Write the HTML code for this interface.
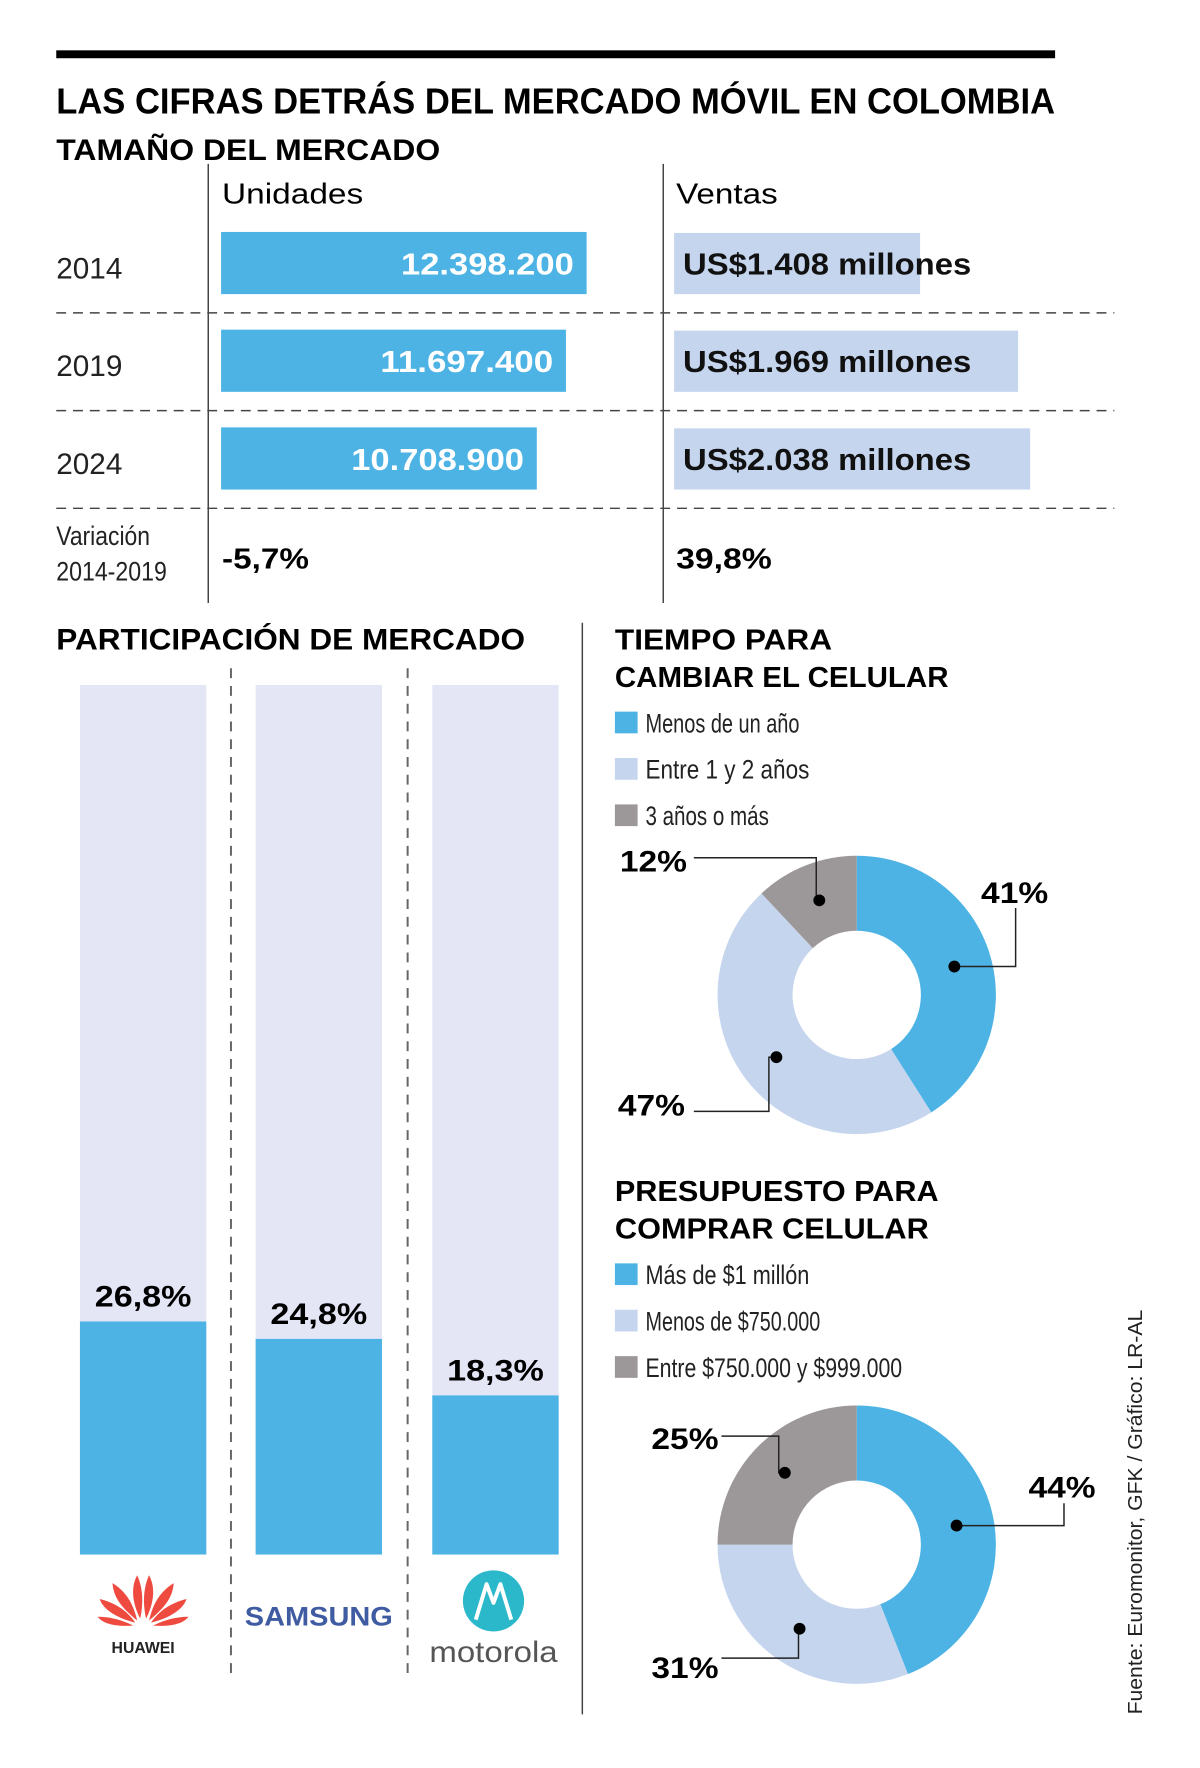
<!DOCTYPE html>
<html><head><meta charset="utf-8"><style>
html,body{margin:0;padding:0;background:#fff;}
svg{display:block;font-family:"Liberation Sans",sans-serif;}
</style></head><body>
<svg id="chart" width="1200" height="1768" viewBox="0 0 1200 1768" xmlns="http://www.w3.org/2000/svg">
<g transform="scale(0.987)">
<rect x="57" y="51" width="1012" height="8" fill="#000"/>
<text x="57" y="115" font-size="37" font-weight="bold" textLength="1012" lengthAdjust="spacingAndGlyphs">LAS CIFRAS DETRÁS DEL MERCADO MÓVIL EN COLOMBIA</text>
<text x="57" y="162" font-size="30" font-weight="bold" textLength="389" lengthAdjust="spacingAndGlyphs">TAMAÑO DEL MERCADO</text>
<line x1="211" y1="166" x2="211" y2="611" stroke="#444" stroke-width="1.5"/>
<line x1="672" y1="166" x2="672" y2="611" stroke="#444" stroke-width="1.5"/>
<text x="225" y="206" font-size="29" textLength="143" lengthAdjust="spacingAndGlyphs">Unidades</text>
<text x="685" y="206" font-size="29" textLength="103" lengthAdjust="spacingAndGlyphs">Ventas</text>
<g id="sizeRows"></g>
<text x="57" y="552" font-size="27" fill="#222" textLength="95" lengthAdjust="spacingAndGlyphs">Variación</text>
<text x="57" y="588" font-size="27" fill="#222" textLength="112" lengthAdjust="spacingAndGlyphs">2014-2019</text>
<text x="225" y="576" font-size="29" font-weight="bold" textLength="88" lengthAdjust="spacingAndGlyphs">-5,7%</text>
<text x="685" y="576" font-size="29" font-weight="bold" textLength="97" lengthAdjust="spacingAndGlyphs">39,8%</text>

<text x="57" y="658" font-size="30" font-weight="bold" textLength="475" lengthAdjust="spacingAndGlyphs">PARTICIPACIÓN DE MERCADO</text>
<line x1="590" y1="631" x2="590" y2="1737" stroke="#444" stroke-width="1.5"/>
<line x1="234" y1="677" x2="234" y2="1703" stroke="#666" stroke-width="2" stroke-dasharray="10,8"/>
<line x1="413" y1="677" x2="413" y2="1703" stroke="#666" stroke-width="2" stroke-dasharray="10,8"/>
<g id="shareBars"></g>

<g transform="translate(145,1632)">
 <g fill="#ef4a3f">
  <path d="M-3,8 C-12,-10 -12,-25 -6,-36 C-1,-25 1,-10 -3,8Z"/>
  <path d="M3,8 C12,-10 12,-25 6,-36 C1,-25 -1,-10 3,8Z"/>
  <path d="M-6,10 C-20,-2 -30,-12 -31,-28 C-18,-20 -10,-8 -6,10Z"/>
  <path d="M6,10 C20,-2 30,-12 31,-28 C18,-20 10,-8 6,10Z"/>
  <path d="M-8,12 C-24,8 -40,0 -44,-12 C-28,-8 -16,0 -8,12Z"/>
  <path d="M8,12 C24,8 40,0 44,-12 C28,-8 16,0 8,12Z"/>
  <path d="M-10,15 C-26,16 -40,14 -46,6 C-32,6 -20,10 -10,15Z"/>
  <path d="M10,15 C26,16 40,14 46,6 C32,6 20,10 10,15Z"/>
 </g>
 <text x="0" y="43" font-size="16" font-weight="bold" text-anchor="middle" fill="#222">HUAWEI</text>
</g>
<text x="323" y="1647" font-size="27" font-weight="bold" text-anchor="middle" fill="#3f5ba1" textLength="150" lengthAdjust="spacingAndGlyphs">SAMSUNG</text>
<g>
 <circle cx="500" cy="1622" r="31" fill="#2bb8cb"/>
 <path d="M482,1641 L493,1605 L500,1624 L507,1605 L518,1641" fill="none" stroke="#fff" stroke-width="4" stroke-linejoin="round"/>
 <text x="500" y="1684" font-size="30" text-anchor="middle" fill="#555" textLength="130" lengthAdjust="spacingAndGlyphs">motorola</text>
</g>

<text x="623" y="658" font-size="29" font-weight="bold" textLength="220" lengthAdjust="spacingAndGlyphs">TIEMPO PARA</text>
<text x="623" y="696" font-size="29" font-weight="bold" textLength="338" lengthAdjust="spacingAndGlyphs">CAMBIAR EL CELULAR</text>
<g id="legend1"></g>
<g id="donut1"></g>
<text x="623" y="1217" font-size="29" font-weight="bold" textLength="328" lengthAdjust="spacingAndGlyphs">PRESUPUESTO PARA</text>
<text x="623" y="1255" font-size="29" font-weight="bold" textLength="318" lengthAdjust="spacingAndGlyphs">COMPRAR CELULAR</text>
<g id="legend2"></g>
<g id="donut2"></g>
<text transform="translate(1157,1737) rotate(-90)" font-size="21" fill="#222" textLength="410" lengthAdjust="spacingAndGlyphs">Fuente: Euromonitor, GFK / Gráfico: LR-AL</text>
</g>
</svg>
<script>
const years = ["2014","2019","2024"];
const units = [12398200, 11697400, 10708900];
const unitLabels = ["12.398.200","11.697.400","10.708.900"];
const sales = [1408, 1969, 2038];
const salesLabels = ["US$1.408 millones","US$1.969 millones","US$2.038 millones"];
const brands = ["huawei","samsung","motorola"];
const shares = [26.8, 24.8, 18.3];
const shareLabels = ["26,8%","24,8%","18,3%"];
const timeCats = ["Menos de un año","Entre 1 y 2 años","3 años o más"];
const timeVals = [41, 47, 12];
const budgetCats = ["Más de $1 millón","Menos de $750.000","Entre $750.000 y $999.000"];
const budgetVals = [44, 31, 25];

const NS = "http://www.w3.org/2000/svg";
const BLUE="#4db3e4", LIGHT="#c5d5ee", GREY="#9c9799", BG="#e4e6f6";
function mk(parent, tag, attrs, txt){
  const e=document.createElementNS(NS,tag);
  for(const k in attrs) e.setAttribute(k,attrs[k]);
  if(txt!==undefined) e.textContent=txt;
  parent.appendChild(e); return e;
}
const unitX = v => v/1e6*29.87;
const salesX = v => v*0.177;
const rowsG=document.getElementById('sizeRows');
const rowTop=[235,334,433];
years.forEach((y,i)=>{
  const t=rowTop[i];
  let e=mk(rowsG,'text',{x:57,y:t+47,'font-size':30,fill:'#222',textLength:67,lengthAdjust:'spacingAndGlyphs'},y);
  
  
  const uw=unitX(units[i]);
  e=mk(rowsG,'rect',{x:224,y:t,width:uw,height:63,fill:BLUE});
  
  
  e=mk(rowsG,'text',{x:224+uw-13,y:t+43,'font-size':31,'font-weight':'bold',fill:'#fff','text-anchor':'end',textLength:175,lengthAdjust:'spacingAndGlyphs'},unitLabels[i]);
  
  
  const sw=salesX(sales[i]);
  e=mk(rowsG,'rect',{x:683,y:t+1,width:sw,height:62,fill:LIGHT});
  
  
  e=mk(rowsG,'text',{x:692,y:t+43,'font-size':31,'font-weight':'bold',fill:'#111',textLength:292,lengthAdjust:'spacingAndGlyphs'},salesLabels[i]);
  
  
  e=mk(rowsG,'line',{x1:57,x2:1129,y1:t+82,y2:t+82,stroke:'#444','stroke-width':1.5,'stroke-dasharray':'10,7'});
  
  
});
const sb=document.getElementById('shareBars');
const barX=[81,259,438], barTop=694, barBot=1575;
const shY = v => barBot - v/100*(barBot-barTop);
brands.forEach((b,i)=>{
  let e=mk(sb,'rect',{x:barX[i],y:barTop,width:128,height:barBot-barTop,fill:BG});
  
  
  const y=shY(shares[i]);
  e=mk(sb,'rect',{x:barX[i],y:y,width:128,height:barBot-y,fill:BLUE});
  
  
  e=mk(sb,'text',{x:barX[i]+64,y:y-15,'font-size':30,'font-weight':'bold','text-anchor':'middle',textLength:98,lengthAdjust:'spacingAndGlyphs'},shareLabels[i]);
  
  
});
const colors=[BLUE,LIGHT,GREY];
function legend(id, cats, top, pref){
  const g=document.getElementById(id);
  cats.forEach((c,i)=>{
    const y=top+i*47;
    let e=mk(g,'rect',{x:623,y:y,width:23,height:22,fill:colors[i]});
    
    
    e=mk(g,'text',{x:654,y:y+21,'font-size':27,fill:'#222',textLength:Math.round(c.length*10.4),lengthAdjust:'spacingAndGlyphs'},c);
    
    
  });
}
legend('legend1',timeCats,721,'time');
legend('legend2',budgetCats,1280,'budget');
function arc(cx,cy,R,r,a0,a1){
  const p=(a,rad)=>[cx+rad*Math.sin(a),cy-rad*Math.cos(a)];
  const big=(a1-a0)>Math.PI?1:0;
  const [x0,y0]=p(a0,R),[x1,y1]=p(a1,R),[x2,y2]=p(a1,r),[x3,y3]=p(a0,r);
  return `M${x0},${y0} A${R},${R} 0 ${big} 1 ${x1},${y1} L${x2},${y2} A${r},${r} 0 ${big} 0 ${x3},${y3}Z`;
}
function donut(id, vals, cy, pref, callouts){
  const g=document.getElementById(id);
  const cx=868,R=141,r=65;
  const tot=vals.reduce((a,b)=>a+b,0);
  let a=0;
  vals.forEach((v,i)=>{
    const a1=a+v/tot*2*Math.PI;
    let e=mk(g,'path',{d:arc(cx,cy,R,r,a,a1),fill:colors[i]});
    
    
    const mid=(a+a1)/2, rm=(R+r)/2;
    const dx=cx+rm*Math.sin(mid), dy=cy-rm*Math.cos(mid);
    const c=callouts[i];
    e=mk(g,'polyline',{points:`${c.lx},${c.ly} ${c.kx},${c.ly} ${c.kx},${dy} ${dx},${dy}`,fill:'none',stroke:'#222','stroke-width':1.5});
    
    
    e=mk(g,'circle',{cx:dx,cy:dy,r:6,fill:'#000'});
    
    
    e=mk(g,'text',{x:c.tx,y:c.ty,'font-size':30,'font-weight':'bold',textLength:68,lengthAdjust:'spacingAndGlyphs'},v+'%');
    
    
    a=a1;
  });
}
donut('donut1',timeVals,1008,'time',[
  {lx:1029,ly:920,kx:1029,tx:994,ty:915},
  {lx:703,ly:1126,kx:779,tx:626,ty:1130},
  {lx:703,ly:869,kx:827,tx:628,ty:883}
]);
donut('donut2',budgetVals,1565,'budget',[
  {lx:1078,ly:1523,kx:1078,tx:1042,ty:1517},
  {lx:731,ly:1680,kx:809,tx:660,ty:1700},
  {lx:731,ly:1455,kx:789,tx:660,ty:1468}
]);
</script>
</body></html>
